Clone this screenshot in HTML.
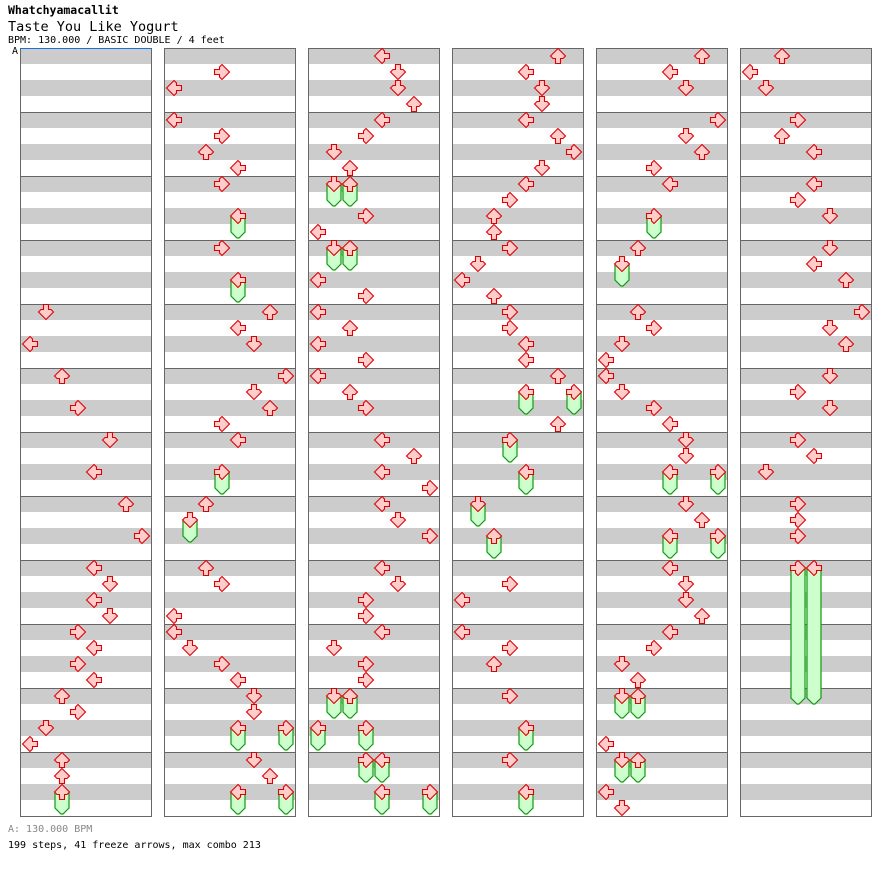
<!DOCTYPE html>
<html><head><meta charset="utf-8"><style>
body{margin:0;background:#fff;width:896px;height:876px;overflow:hidden;font-family:"DejaVu Sans Mono","Liberation Mono",monospace;}
.t{position:absolute;left:8px;white-space:pre;color:#000}
</style></head><body>
<div class="t" style="top:3px;font-size:11.5px;font-weight:bold">Whatchyamacallit</div>
<div class="t" style="top:19px;font-size:13.5px">Taste You Like Yogurt</div>
<div class="t" style="top:35px;font-size:10px">BPM: 130.000 / BASIC DOUBLE / 4 feet</div>
<div class="t" style="top:46px;left:12px;font-size:10px">A</div>
<div class="t" style="top:824px;font-size:10px;color:#888">A: 130.000 BPM</div>
<div class="t" style="top:840px;font-size:10px">199 steps, 41 freeze arrows, max combo 213</div>
<svg id="s" width="896" height="876" style="position:absolute;left:0;top:0"></svg>
<script>
var cols=[
"1,16 0,18 2,20 3,22 5,24 4,26 6,28 7,30 4,32 5,33 4,34 5,35 3,36 4,37 3,38 4,39 2,40 3,41 1,42 0,43 2,44 2,45 2,46,f",
"3,1 0,2 0,4 3,5 2,6 4,7 3,8 4,10,f 3,12 4,14,f 6,16 4,17 5,18 7,20 5,21 6,22 3,23 4,24 3,26,f 2,28 1,29,f 2,32 3,33 0,35 0,36 1,37 3,38 4,39 5,40 5,41 4,42,f 7,42,f 5,44 6,45 4,46,f 7,46,f",
"4,0 5,1 5,2 6,3 4,4 3,5 1,6 2,7 1,8,f 2,8,f 3,10 0,11 1,12,f 2,12,f 0,14 3,15 0,16 2,17 0,18 3,19 0,20 2,21 3,22 4,24 6,25 4,26 7,27 4,28 5,29 7,30 4,32 5,33 3,34 3,35 4,36 1,37 3,38 3,39 1,40,f 2,40,f 0,42,f 3,42,f 3,44,f 4,44,f 4,46,f 7,46,f",
"6,0 4,1 5,2 5,3 4,4 6,5 7,6 5,7 4,8 3,9 2,10 2,11 3,12 1,13 0,14 2,15 3,16 3,17 4,18 4,19 6,20 4,21,f 7,21,f 6,23 3,24,f 4,26,f 1,28,f 2,30,f 3,33 0,34 0,36 3,37 2,38 3,40 4,42,f 3,44 4,46,f",
"6,0 4,1 5,2 7,4 5,5 6,6 3,7 4,8 3,10,f 2,12 1,13,f 2,16 3,17 1,18 0,19 0,20 1,21 3,22 4,23 5,24 5,25 4,26,f 7,26,f 5,28 6,29 4,30,f 7,30,f 4,32 5,33 5,34 6,35 4,36 3,37 1,38 2,39 1,40,f 2,40,f 0,43 1,44,f 2,44,f 0,46 1,47",
"2,0 0,1 1,2 3,4 2,5 4,6 4,8 3,9 5,10 5,12 4,13 6,14 7,16 5,17 6,18 5,20 3,21 5,22 3,24 4,25 1,26 3,28 3,29 3,30 3,32,L 4,32,L"];
var s='';
for(var c=0;c<6;c++){var x0=20+144*c;
 for(var r=0;r<48;r+=2)s+='<rect x="'+x0+'" y="'+(48+16*r)+'" width="132" height="16" fill="#cccccc"/>';
 for(var m=1;m<12;m++)s+='<line x1="'+x0+'" x2="'+(x0+132)+'" y1="'+(48.5+64*m)+'" y2="'+(48.5+64*m)+'" stroke="#666"/>';
 s+='<rect x="'+(x0+.5)+'" y="48.5" width="131" height="768" fill="none" stroke="#666"/>';}
s+='<line x1="20" x2="152" y1="48.5" y2="48.5" stroke="#1a6fd8"/>';
var rot=[90,0,180,270];
var P="-2.5,-7.5 2.5,-7.5 2.5,-2.5 5,-2.5 7.5,0 0,7.5 -7.5,0 -5,-2.5 -2.5,-2.5";
var heads='';
for(c=0;c<6;c++){x0=20+144*c;cols[c].split(' ').forEach(function(t){var a=t.split(',');var l=+a[0],r=+a[1];
 var cx=x0+10+16*l,cy=56+16*r;
 if(a[2]){var e=a[2]=='L'?704:48+16*r+30;
  s+='<polygon points="'+(cx-7)+','+cy+' '+(cx+7)+','+cy+' '+(cx+7)+','+(e-6)+' '+(cx+1)+','+e+' '+(cx-1)+','+e+' '+(cx-7)+','+(e-6)+'" fill="#ccffcc" stroke="#119911" stroke-width="1.2"/>';}
 heads+='<polygon transform="translate('+cx+','+cy+') rotate('+rot[l%4]+')" points="'+P+'" fill="#ffcccc" stroke="#e00000" stroke-width="1.1"/>';});}
document.getElementById('s').innerHTML=s+heads;
</script>
</body></html>
